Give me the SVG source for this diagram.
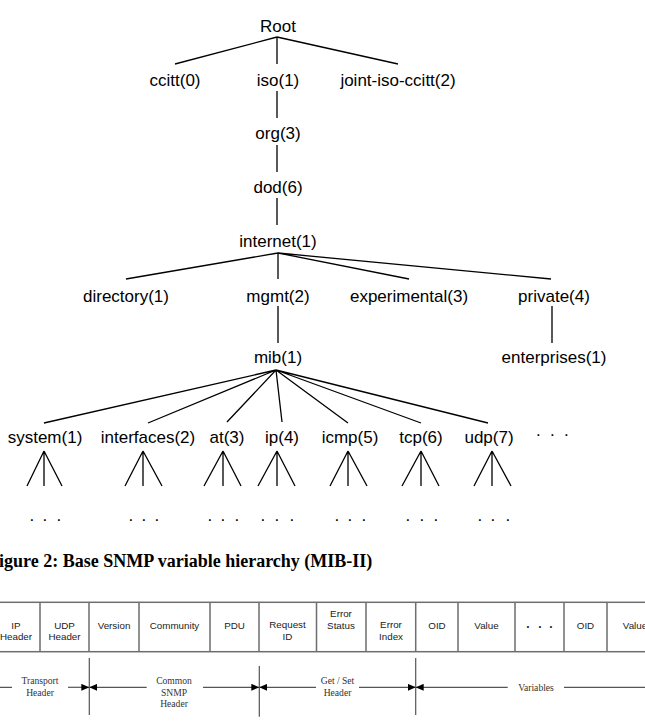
<svg xmlns="http://www.w3.org/2000/svg" width="645" height="723" viewBox="0 0 645 723">
<style>
.n{font-family:"Liberation Sans",Arial,sans-serif;font-size:17px;fill:#000;text-anchor:middle}
.d{font-family:"Liberation Sans",Arial,sans-serif;font-size:17px;fill:#000}
.t{font-family:"Liberation Sans",Arial,sans-serif;font-size:9.8px;fill:#222;text-anchor:middle}
.s{font-family:"Liberation Serif","Times New Roman",serif;font-size:9.6px;fill:#333;text-anchor:middle}
.cap{font-family:"Liberation Serif","Times New Roman",serif;font-size:18px;font-weight:bold;fill:#000}
.e{stroke:#000;stroke-width:1.3;fill:none}
.g{stroke:#6e6e6e;stroke-width:1.5;fill:none}
.b{stroke:#555;stroke-width:1.2;fill:none}
</style>
<defs>
<marker id="ah" markerUnits="userSpaceOnUse" markerWidth="8" markerHeight="7" refX="8" refY="3.5" orient="auto-start-reverse">
<path d="M0,0 L8,3.5 L0,7 z" fill="#000"/>
</marker>
</defs>
<g id="connectors" class="e">
<path d="M277,37 L175,64 M277,37 L277,64 M277,37 L398,64"/>
<path d="M277,91 L277,118 M277,145 L277,172 M277,198 L277,225"/>
<path d="M278,253 L126,279 M278,253 L278,279 M278,253 L409,279 M278,253 L551,279"/>
<path d="M278,306 L278,343 M552,306 L552,343"/>
<path d="M276,370 L44,423 M276,370 L148,423 M276,370 L227,422 M276,370 L282,422 M276,370 L348,423 M276,370 L421,423 M276,370 L488,423"/>
<path d="M44,451 L27,486 M44,451 L44,486 M44,451 L62,486"/>
<path d="M143,451 L125,486 M143,451 L143,486 M143,451 L162,486"/>
<path d="M223,451 L204,486 M223,451 L223,486 M223,451 L241,486"/>
<path d="M277,451 L258,486 M277,451 L277,486 M277,451 L295,486"/>
<path d="M348,451 L330,486 M348,451 L348,486 M348,451 L367,486"/>
<path d="M421,451 L402,486 M421,451 L421,486 M421,451 L439,486"/>
<path d="M492,451 L474,486 M492,451 L492,486 M492,451 L511,486"/>
</g>
<g id="n-root"><text class="n" x="278" y="32">Root</text></g>
<g id="n-ccitt"><text class="n" x="175" y="86">ccitt(0)</text></g>
<g id="n-iso"><text class="n" x="278" y="86">iso(1)</text></g>
<g id="n-joint"><text class="n" x="398" y="86">joint-iso-ccitt(2)</text></g>
<g id="n-org"><text class="n" x="278" y="139">org(3)</text></g>
<g id="n-dod"><text class="n" x="278" y="193">dod(6)</text></g>
<g id="n-internet"><text class="n" x="278" y="247">internet(1)</text></g>
<g id="n-directory"><text class="n" x="126" y="302">directory(1)</text></g>
<g id="n-mgmt"><text class="n" x="278" y="302">mgmt(2)</text></g>
<g id="n-experimental"><text class="n" x="409" y="302">experimental(3)</text></g>
<g id="n-private"><text class="n" x="554" y="302">private(4)</text></g>
<g id="n-mib"><text class="n" x="278" y="363">mib(1)</text></g>
<g id="n-enterprises"><text class="n" x="554" y="363">enterprises(1)</text></g>
<g id="n-system"><text class="n" x="45" y="443">system(1)</text></g>
<g id="n-interfaces"><text class="n" x="148" y="443">interfaces(2)</text></g>
<g id="n-at"><text class="n" x="227" y="443">at(3)</text></g>
<g id="n-ip"><text class="n" x="282" y="443">ip(4)</text></g>
<g id="n-icmp"><text class="n" x="350" y="443">icmp(5)</text></g>
<g id="n-tcp"><text class="n" x="421" y="443">tcp(6)</text></g>
<g id="n-udp"><text class="n" x="489" y="443">udp(7)</text></g>
<g id="n-more"><text class="d" x="536 550 564" y="435.5">...</text></g>
<g id="dots">
<text class="d" x="29.6 42.6 56.6" y="520.5">...</text>
<text class="d" x="128.6 141.6 154.6" y="520.5">...</text>
<text class="d" x="207.6 220.6 234.6" y="520.5">...</text>
<text class="d" x="260.6 274.6 289.6" y="520.5">...</text>
<text class="d" x="334.6 347.6 361.6" y="520.5">...</text>
<text class="d" x="405.6 419.6 433.6" y="520.5">...</text>
<text class="d" x="477.6 490.6 505.6" y="520.5">...</text>
</g>
<text class="cap" x="-12" y="567">Figure 2: Base SNMP variable hierarchy (MIB-II)</text>
<g id="packet">
<rect class="g" x="-8" y="602.3" width="672" height="49.4"/>
<path class="g" d="M40,602.3V651.7 M89,602.3V651.7 M139,602.3V651.7 M210,602.3V651.7 M259,602.3V651.7 M316.5,602.3V651.7 M366,602.3V651.7 M415.7,602.3V651.7 M458,602.3V651.7 M515,602.3V651.7 M564,602.3V651.7 M607,602.3V651.7"/>
<text class="t" x="16" y="629">IP</text><text class="t" x="16" y="640">Header</text>
<text class="t" x="64.5" y="629">UDP</text><text class="t" x="64.5" y="640">Header</text>
<text class="t" x="114" y="629">Version</text>
<text class="t" x="174.5" y="629">Community</text>
<text class="t" x="234.5" y="629">PDU</text>
<text class="t" x="287.5" y="628">Request</text><text class="t" x="287.5" y="640">ID</text>
<text class="t" x="341" y="617">Error</text><text class="t" x="341" y="629">Status</text>
<text class="t" x="391" y="628">Error</text><text class="t" x="391" y="640">Index</text>
<text class="t" x="437" y="629">OID</text>
<text class="t" x="486.5" y="629">Value</text>
<text x="526.3 538.3 549.3" y="628" style="font-family:'Liberation Sans',Arial,sans-serif;font-size:12px;font-weight:bold;fill:#222">...</text>
<text class="t" x="585.5" y="629">OID</text>
<text class="t" x="635" y="629">Value</text>
</g>
<g id="brackets">
<path class="b" d="M89.3,658V715 M259.3,666V716.7 M415.7,658V715"/>
<path class="b" d="M0,687.3H12 M564,687.3H645"/>
<path class="b" d="M68,687.3H89.3" marker-end="url(#ah)"/>
<path class="b" d="M89.3,687.3H146.7" marker-start="url(#ah)"/>
<path class="b" d="M203,687.3H259.3" marker-end="url(#ah)"/>
<path class="b" d="M259.3,687.3H316" marker-start="url(#ah)"/>
<path class="b" d="M359,687.3H415.7" marker-end="url(#ah)"/>
<path class="b" d="M415.7,687.3H507.7" marker-start="url(#ah)"/>
<text class="s" x="40" y="684">Transport</text><text class="s" x="40" y="696">Header</text>
<text class="s" x="174" y="684">Common</text><text class="s" x="174" y="695.5">SNMP</text><text class="s" x="174" y="707">Header</text>
<text class="s" x="337.5" y="684">Get / Set</text><text class="s" x="337.5" y="696">Header</text>
<text class="s" x="536" y="691">Variables</text>
</g>
</svg>
